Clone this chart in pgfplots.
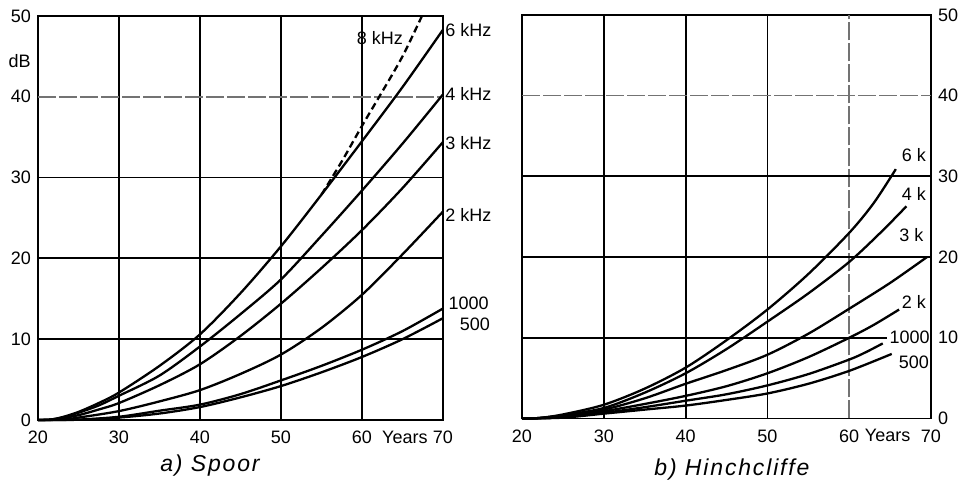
\documentclass[border=0pt]{standalone}
\usepackage{fontspec}
\setmainfont{Liberation Sans}
\newfontfamily\capfont[LetterSpace=8]{Liberation Sans}
\usepackage{pgfplots}
\pgfplotsset{compat=1.18}

\pgfplotsset{
  audio/.style={
    scale only axis,
    xmin=20, xmax=70, ymin=0, ymax=50,
    axis line style={line width=0.9pt},
    xtick={20,30,40,50,60,70},
    ytick={0,10,20,30,40,50},
    major tick length=0pt,
    tick label style={font=\fontsize{9}{10}\selectfont},
    /pgf/number format/assume math mode=true,
    xticklabel style={yshift=-2pt},
    extra tick style={major tick length=0pt},
    clip=false,
  },
}
\tikzset{
  curve/.style={line width=1.15pt, black, smooth, tension=0.5},
  grd/.style={line width=0.9pt, black},
  grdd/.style={line width=0.8pt, black!55, dash pattern=on 9pt off 1.5pt},
  lab/.style={font=\fontsize{9}{10}\selectfont, inner sep=1pt},
}

\begin{document}
\begin{tikzpicture}
\useasboundingbox (0,0) rectangle (480pt,240pt);

% a) Spoor
\begin{axis}[audio, at={(19pt,30pt)}, anchor=south west,
  width=202.5pt, height=202pt,
  extra x ticks={65.3}, extra x tick labels={Years}]
\draw[grd] (axis cs:30,0) -- (axis cs:30,50);
\draw[grd] (axis cs:40,0) -- (axis cs:40,50);
\draw[grd] (axis cs:50,0) -- (axis cs:50,50);
\draw[grd] (axis cs:60,0) -- (axis cs:60,50);
\draw[grd] (axis cs:20,10) -- (axis cs:70,10);
\draw[grd] (axis cs:20,20) -- (axis cs:70,20);
\draw[grd] (axis cs:20,30) -- (axis cs:70,30);
\draw[grdd] (axis cs:20,40) -- (axis cs:70,40);

% 6 kHz
\addplot[curve] coordinates {(20,0)(21.5,0.05)(23,0.35)(25,1.0)(27.5,2.1)(30,3.4)(35,6.7)(40,10.6)(45,15.7)(50,21.5)(55,27.9)(60,34.5)(65,41.2)(70,48.3)};
% 8 kHz
\addplot[line width=1.15pt, black, smooth, tension=0.5, dash pattern=on 3.5pt off 2pt] coordinates {(55,27.9)(57.5,32.0)(60,36.4)(62.3,40.3)(65,45.0)(67.4,50)};
% 4 kHz
\addplot[curve] coordinates {(20,0)(21.5,0.05)(23,0.3)(25,0.9)(27.5,1.8)(30,3.0)(35,5.5)(40,9.1)(45,13.1)(50,17.4)(55,22.8)(60,28.4)(65,34.2)(70,40.3)};
% 3 kHz
\addplot[curve] coordinates {(20,0)(22,0.05)(25,0.6)(27.5,1.3)(30,2.1)(35,4.3)(40,6.9)(45,10.4)(50,14.4)(55,18.8)(60,23.5)(65,28.7)(70,34.4)};
% 2 kHz
\addplot[curve] coordinates {(20,0)(23,0.05)(25,0.3)(30,1.1)(35,2.3)(40,3.7)(45,5.7)(50,8.1)(55,11.4)(60,15.5)(65,20.5)(70,25.8)};
% 1000 Hz
\addplot[curve] coordinates {(20,0)(25,0.05)(30,0.4)(35,1.15)(40,1.9)(45,3.2)(50,4.9)(55,6.7)(60,8.7)(65,11.0)(70,13.8)};
% 500 Hz
\addplot[curve] coordinates {(20,0)(25,0.03)(30,0.3)(35,0.8)(40,1.6)(45,2.8)(50,4.2)(55,5.9)(60,7.8)(65,10.0)(70,12.6)};

\node[lab] at (axis cs:62.2,47.3) {8 kHz};
\node[lab, anchor=west] at (axis cs:70,48.3) {6 kHz};
\node[lab, anchor=west] at (axis cs:70,40.4) {4 kHz};
\node[lab, anchor=west] at (axis cs:70,34.3) {3 kHz};
\node[lab, anchor=west] at (axis cs:70,25.4) {2 kHz};
\node[lab, anchor=west] at (axis cs:70.4,14.5) {1000};
\node[lab, anchor=west] at (axis cs:71.8,11.8) {500};
\node[lab, anchor=east] at (axis cs:19.4,44.4) {dB};
\end{axis}

% b) Hinchcliffe
\begin{axis}[audio, at={(261pt,30.75pt)}, anchor=south west,
  width=204.5pt, height=201.75pt,
  yticklabel pos=right,
  extra x ticks={64.7}, extra x tick labels={Years}]
\draw[grd] (axis cs:30,0) -- (axis cs:30,50);
\draw[grd] (axis cs:40,0) -- (axis cs:40,50);
\draw[grd] (axis cs:50,0) -- (axis cs:50,50);
\draw[grdd] (axis cs:60,0) -- (axis cs:60,50);
\draw[grd] (axis cs:20,10) -- (axis cs:64.6,10);
\draw[grd] (axis cs:20,20) -- (axis cs:70,20);
\draw[grd] (axis cs:20,30) -- (axis cs:70,30);
\draw[grdd] (axis cs:20,40) -- (axis cs:70,40);

% 6 k
\addplot[curve] coordinates {(20,0)(22,0.05)(25,0.5)(30,1.7)(35,3.7)(40,6.3)(45,9.7)(50,13.5)(55,17.9)(60,23.0)(63,26.7)(65.7,30.9)};
% 4 k
\addplot[curve] coordinates {(20,0)(22,0.05)(25,0.4)(30,1.3)(35,3.2)(40,5.6)(45,8.6)(50,12.0)(55,15.5)(60,19.4)(64,23.2)(67,26.3)};
% 3 k
\addplot[curve] coordinates {(20,0)(22,0.05)(25,0.35)(30,1.1)(35,2.5)(40,4.3)(45,6.0)(50,7.9)(55,10.5)(60,13.6)(65,16.8)(69.5,20.0)};
% 2 k
\addplot[curve] coordinates {(20,0)(23,0.05)(25,0.25)(30,0.9)(35,1.8)(40,2.8)(45,4.0)(50,5.6)(55,7.6)(60,10.0)(63,11.6)(66.1,13.5)};
% 1000
\addplot[curve] coordinates {(20,0)(25,0.15)(30,0.7)(35,1.4)(40,2.2)(45,3.0)(50,4.1)(55,5.5)(60,7.3)(62,8.2)(64.1,9.3)};
% 500
\addplot[curve] coordinates {(20,0)(25,0.1)(30,0.6)(35,1.1)(40,1.6)(45,2.3)(50,3.1)(55,4.3)(60,5.9)(65.2,8.0)};

\node[lab] at (axis cs:67.9,32.6) {6 k};
\node[lab] at (axis cs:67.9,27.8) {4 k};
\node[lab] at (axis cs:67.6,22.7) {3 k};
\node[lab] at (axis cs:67.9,14.4) {2 k};
\node[lab] at (axis cs:67.4,10.0) {1000};
\node[lab] at (axis cs:67.9,7.0) {500};
\end{axis}

\node[font={\fontsize{11.5}{13}\capfont\itshape}] at (105pt,7pt) {a) Spoor};
\node[font={\fontsize{11.5}{13}\capfont\itshape}] at (366pt,5pt) {b) Hinchcliffe};
\end{tikzpicture}
\end{document}
